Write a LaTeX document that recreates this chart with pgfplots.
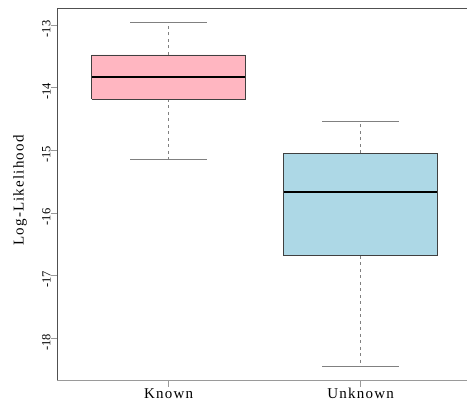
\documentclass[border=0pt]{standalone}
\usepackage{pgfplots}
\pgfplotsset{compat=1.18}
\usepackage{fontspec}
\setmainfont{Liberation Serif}
\newfontfamily\lblfont{Liberation Serif}[LetterSpace=8]
\definecolor{boxpink}{HTML}{FFB6C1}
\definecolor{boxblue}{HTML}{ADD8E6}
\definecolor{spine}{HTML}{505050}
\definecolor{tickgray}{HTML}{9A9A9A}
\definecolor{boxedge}{HTML}{404040}
\definecolor{whisk}{HTML}{808080}
\begin{document}
\begin{tikzpicture}
\begin{axis}[
  scale only axis, width=409.7pt, height=372.3pt,
  xmin=0.42, xmax=2.554, ymin=-18.67, ymax=-12.729,
  clip=false,
  axis x line*=bottom, axis y line*=left,
  x axis line style={-, draw=tickgray, line width=0.8pt},
  y axis line style={-, draw=spine, line width=0.8pt},
  tick align=outside,
  major tick length=6.5pt,
  every tick/.append style={draw=tickgray, line width=0.8pt},
  xtick={1,2}, xticklabels={Known,Unknown},
  ytick={-13,-14,-15,-16,-17,-18},
  yticklabels={-13,-14,-15,-16,-17,-18},
  yticklabel style={rotate=90, anchor=south, inner sep=0pt, xshift=-4pt, font=\fontsize{12.5}{14}\selectfont},
  xticklabel style={inner sep=0pt, anchor=base, yshift=-12pt, font=\fontsize{15}{17}\lblfont},
  ylabel style={at={(axis description cs:-0.091,0.51)}, anchor=center, font=\fontsize{15}{17}\lblfont},
  ylabel={Log-Likelihood},
]
% Known: whiskers
\addplot[whisk, line width=0.8pt, dash pattern=on 3pt off 3.5pt] coordinates {(1,-13.479) (1,-12.957)};
\addplot[whisk, line width=0.8pt, dash pattern=on 3pt off 3.5pt] coordinates {(1,-14.181) (1,-15.143)};
\addplot[whisk, line width=0.8pt] coordinates {(0.8,-12.957) (1.2,-12.957)};
\addplot[whisk, line width=0.8pt] coordinates {(0.8,-15.143) (1.2,-15.143)};
\addplot[fill=boxpink, draw=boxedge, line width=0.8pt] coordinates {(0.6,-14.181) (1.4,-14.181) (1.4,-13.479) (0.6,-13.479) (0.6,-14.181)};
\addplot[black, line width=2.2pt] coordinates {(0.6,-13.825) (1.4,-13.825)};
% Unknown
\addplot[whisk, line width=0.8pt, dash pattern=on 3pt off 3.5pt] coordinates {(2,-15.047) (2,-14.537)};
\addplot[whisk, line width=0.8pt, dash pattern=on 3pt off 3.5pt] coordinates {(2,-16.68) (2,-18.452)};
\addplot[whisk, line width=0.8pt] coordinates {(1.8,-14.537) (2.2,-14.537)};
\addplot[whisk, line width=0.8pt] coordinates {(1.8,-18.452) (2.2,-18.452)};
\addplot[fill=boxblue, draw=boxedge, line width=0.8pt] coordinates {(1.6,-16.68) (2.4,-16.68) (2.4,-15.047) (1.6,-15.047) (1.6,-16.68)};
\addplot[black, line width=2.2pt] coordinates {(1.6,-15.665) (2.4,-15.665)};
\draw[spine, line width=0.8pt] (rel axis cs:0,1) -- (rel axis cs:1,1);
\path (rel axis cs:0,0) ++(-57.3pt,-21.7pt) coordinate (BL);
\path (rel axis cs:1,1) ++(0pt,8pt) coordinate (TR);
\end{axis}
\pgfresetboundingbox
\useasboundingbox (BL) rectangle (TR);
\end{tikzpicture}
\end{document}
